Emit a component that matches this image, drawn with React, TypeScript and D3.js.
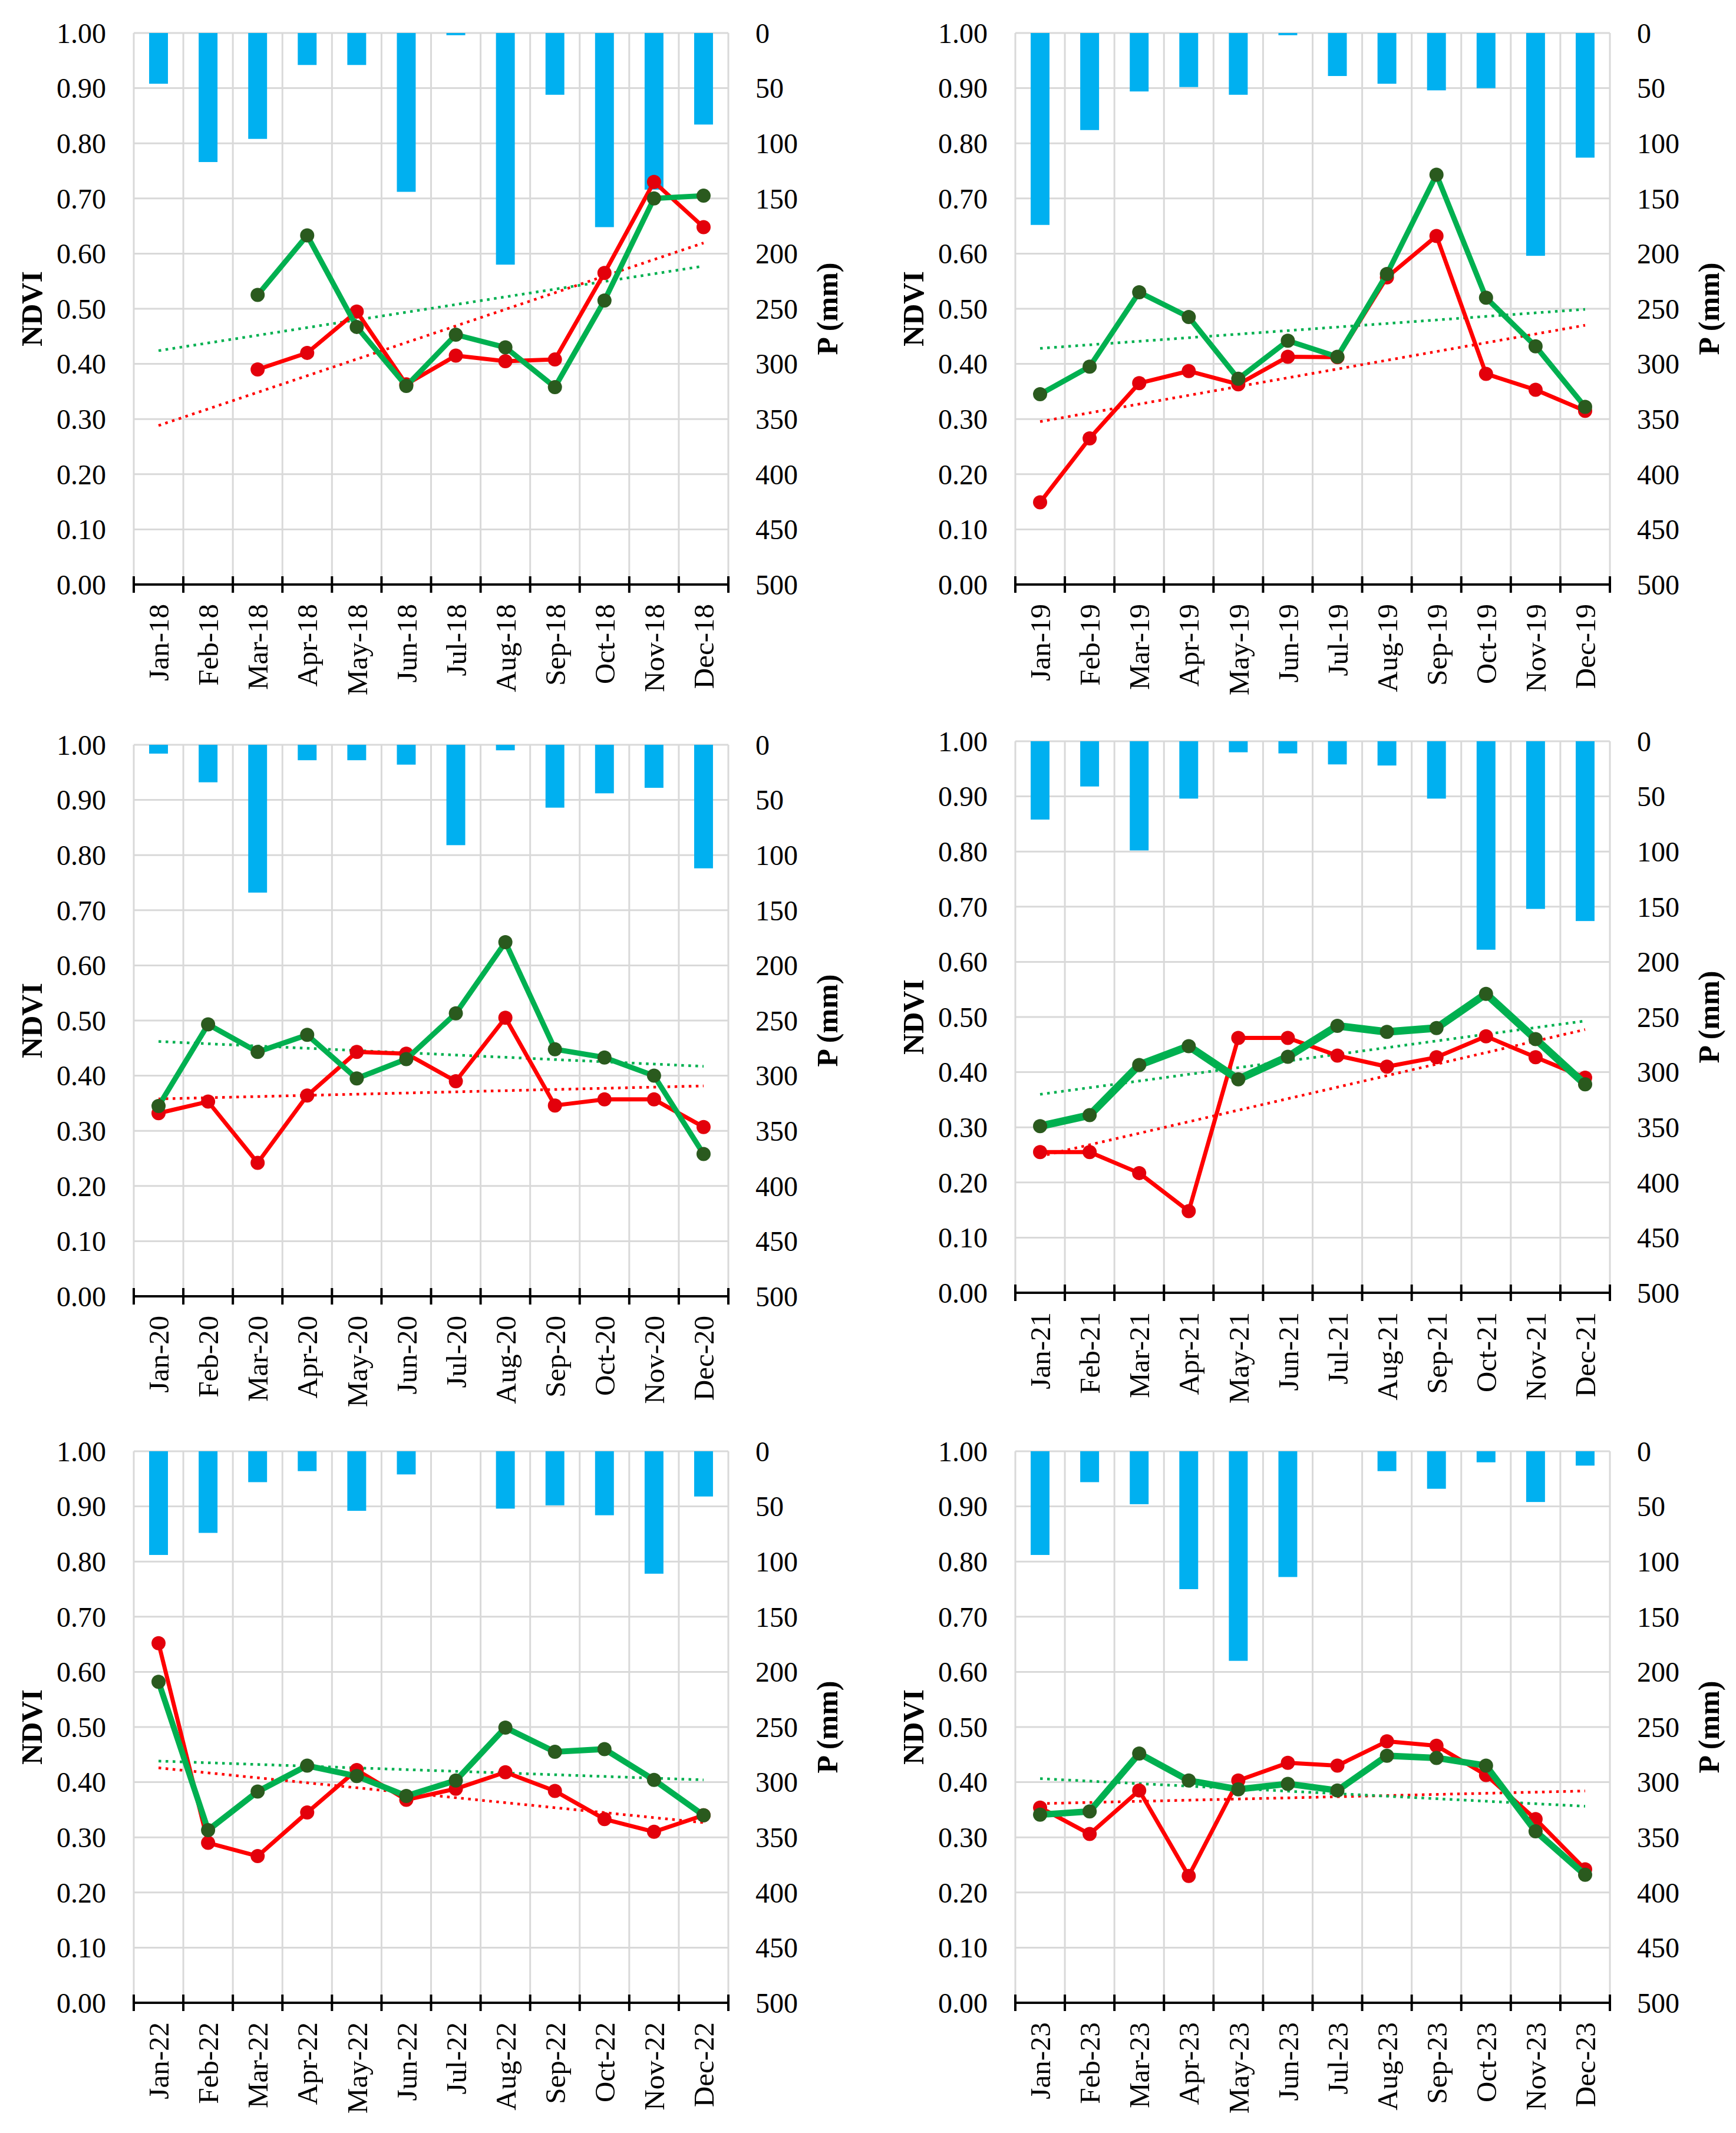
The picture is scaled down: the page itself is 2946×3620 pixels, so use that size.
import React from 'react';
import * as d3 from 'd3';

const MONTHS = ['Jan', 'Feb', 'Mar', 'Apr', 'May', 'Jun', 'Jul', 'Aug', 'Sep', 'Oct', 'Nov', 'Dec'];
const NDVI_TICKS = [0, 0.1, 0.2, 0.3, 0.4, 0.5, 0.6, 0.7, 0.8, 0.9, 1.0];
const P_TICKS = [0, 50, 100, 150, 200, 250, 300, 350, 400, 450, 500];

// monthly precipitation (mm)
const rain2018 = [46, 117, 96, 29, 29, 144, 2, 210, 56, 176, 142, 83];
const rain2019 = [174, 88, 53, 49, 56, 2, 39, 46, 52, 50, 202, 113];
const rain2020 = [8, 34, 134, 14, 14, 18, 91, 5, 57, 44, 39, 112];
const rain2021 = [71, 41, 99, 52, 10, 11, 21, 22, 52, 189, 152, 163];
const rain2022 = [94, 74, 28, 18, 54, 21, 0, 52, 49, 58, 111, 41];
const rain2023 = [94, 28, 48, 125, 190, 114, 0, 18, 34, 10, 46, 13];

// NDVI, red series
const red2018 = [null, null, 0.39, 0.42, 0.495, 0.363, 0.415, 0.405, 0.408, 0.565, 0.73, 0.648];
const red2019 = [0.149, 0.265, 0.365, 0.387, 0.363, 0.413, 0.412, 0.557, 0.632, 0.382, 0.353, 0.315];
const red2020 = [0.332, 0.353, 0.242, 0.364, 0.443, 0.44, 0.39, 0.505, 0.346, 0.357, 0.357, 0.307];
const red2021 = [0.255, 0.255, 0.217, 0.148, 0.462, 0.462, 0.43, 0.41, 0.427, 0.465, 0.427, 0.39];
const red2022 = [0.652, 0.29, 0.266, 0.345, 0.422, 0.368, 0.388, 0.418, 0.384, 0.333, 0.31, 0.34];
const red2023 = [0.354, 0.306, 0.385, 0.23, 0.403, 0.435, 0.43, 0.474, 0.466, 0.413, 0.333, 0.242];

// NDVI, green series
const green2018 = [null, null, 0.525, 0.633, 0.467, 0.36, 0.453, 0.43, 0.358, 0.515, 0.70, 0.705];
const green2019 = [0.345, 0.395, 0.53, 0.485, 0.373, 0.442, 0.413, 0.563, 0.743, 0.52, 0.432, 0.322];
const green2020 = [0.345, 0.493, 0.443, 0.474, 0.395, 0.43, 0.513, 0.642, 0.448, 0.433, 0.40, 0.258];
const green2021 = [0.302, 0.322, 0.413, 0.447, 0.387, 0.428, 0.484, 0.473, 0.48, 0.542, 0.46, 0.378];
const green2022 = [0.582, 0.313, 0.383, 0.43, 0.411, 0.375, 0.403, 0.499, 0.455, 0.46, 0.404, 0.34];
const green2023 = [0.341, 0.347, 0.452, 0.403, 0.387, 0.397, 0.385, 0.448, 0.444, 0.43, 0.311, 0.232];

const PLOT_W = 1009;
const PLOT_H = 936;
const FONT = "'Liberation Serif', 'Times New Roman', Times, serif";

const BLUE = '#00B0F0';
const RED = '#FF0000';
const RED_DOT = '#E3000B';
const GREEN = '#00B050';
const GREEN_DOT = '#2A5A1E';
const GRID = '#D9D9D9';

type Series = (number | null)[];

interface PanelCfg {
  yy: string;
  rain: number[];
  red: Series;
  green: Series;
  left: number;
  top: number;
  greenWidth: number;
}

const panels: PanelCfg[] = [
  { yy: '18', rain: rain2018, red: red2018, green: green2018, left: 227, top: 56, greenWidth: 9 },
  { yy: '19', rain: rain2019, red: red2019, green: green2019, left: 1723, top: 56, greenWidth: 9 },
  { yy: '20', rain: rain2020, red: red2020, green: green2020, left: 227, top: 1264, greenWidth: 9 },
  { yy: '21', rain: rain2021, red: red2021, green: green2021, left: 1723, top: 1258, greenWidth: 13 },
  { yy: '22', rain: rain2022, red: red2022, green: green2022, left: 227, top: 2463, greenWidth: 10 },
  { yy: '23', rain: rain2023, red: red2023, green: green2023, left: 1723, top: 2463, greenWidth: 11 },
];

// least squares fit over defined points, x = month index
function trend(values: Series): [number, number] {
  const pts = values.map((v, i) => [i, v] as [number, number | null]).filter(d => d[1] != null) as [number, number][];
  const mx = d3.mean(pts, d => d[0])!;
  const my = d3.mean(pts, d => d[1])!;
  const sxy = d3.sum(pts, d => (d[0] - mx) * (d[1] - my));
  const sxx = d3.sum(pts, d => (d[0] - mx) ** 2);
  const slope = sxy / sxx;
  return [my - slope * mx, slope];
}

const Panel: React.FC<{ cfg: PanelCfg }> = ({ cfg }) => {
  const { left, top, rain, red, green, yy, greenWidth } = cfg;
  const right = left + PLOT_W;
  const bottom = top + PLOT_H;
  const labels = MONTHS.map(m => `${m}-${yy}`);

  const x = d3.scaleBand<string>().domain(labels).range([left, right]);
  const cx = (i: number) => x(labels[i])! + x.bandwidth() / 2;
  const y = d3.scaleLinear().domain([0, 1]).range([bottom, top]);
  const p = d3.scaleLinear().domain([0, 500]).range([top, bottom]);
  const barW = x.bandwidth() * 0.38;

  const line = d3
    .line<number | null>()
    .defined(d => d != null)
    .x((_, i) => cx(i))
    .y(d => y(d as number));

  const trendPath = (s: Series) => {
    const [a, b] = trend(s);
    return d3.line<number>().x(i => cx(i)).y(i => y(a + b * i))([0, 11]) || '';
  };

  const midY = (top + bottom) / 2;

  return (
    <g>
      {/* grid */}
      {NDVI_TICKS.slice(1).map(t => (
        <line key={'h' + t} x1={left} x2={right} y1={y(t)} y2={y(t)} stroke={GRID} strokeWidth={3} />
      ))}
      {labels.map(l => (
        <line key={'v' + l} x1={x(l)} x2={x(l)} y1={top} y2={bottom} stroke={GRID} strokeWidth={3} />
      ))}
      <line x1={right} x2={right} y1={top} y2={bottom} stroke={GRID} strokeWidth={3} />

      {/* precipitation bars, hanging from top */}
      {rain.map((v, i) => (
        <rect key={'b' + i} x={cx(i) - barW / 2} y={p(0)} width={barW} height={p(v) - p(0)} fill={BLUE} />
      ))}

      {/* trend lines */}
      <path d={trendPath(red)} fill="none" stroke={RED} strokeWidth={4.5} strokeDasharray="4.5 7.5" />
      <path d={trendPath(green)} fill="none" stroke={GREEN} strokeWidth={4.5} strokeDasharray="4.5 7.5" />

      {/* red series */}
      <path d={line(red) || ''} fill="none" stroke={RED} strokeWidth={7} strokeLinejoin="round" />
      {red.map((v, i) => v != null && <circle key={'r' + i} cx={cx(i)} cy={y(v)} r={12} fill={RED_DOT} />)}

      {/* green series */}
      <path d={line(green) || ''} fill="none" stroke={GREEN} strokeWidth={greenWidth} strokeLinejoin="round" />
      {green.map((v, i) => v != null && <circle key={'g' + i} cx={cx(i)} cy={y(v)} r={12} fill={GREEN_DOT} />)}

      {/* x axis */}
      <line x1={left} x2={right} y1={bottom} y2={bottom} stroke="#000" strokeWidth={4} />
      {[...labels.map(l => x(l)!), right].map((tx, i) => (
        <line key={'t' + i} x1={tx} x2={tx} y1={bottom - 14} y2={bottom + 14} stroke="#000" strokeWidth={4} />
      ))}
      {labels.map((l, i) => (
        <text
          key={'xl' + l}
          transform={`translate(${cx(i)},${bottom + 33}) rotate(-90)`}
          textAnchor="end"
          dy="0.35em"
          fontSize={49}
        >
          {l}
        </text>
      ))}

      {/* left axis labels */}
      {NDVI_TICKS.map(t => (
        <text key={'yl' + t} x={left - 47} y={y(t)} dy="0.35em" textAnchor="end" fontSize={48}>
          {t.toFixed(2)}
        </text>
      ))}
      {/* right axis labels */}
      {P_TICKS.map(t => (
        <text key={'pl' + t} x={right + 46} y={p(t)} dy="0.35em" textAnchor="start" fontSize={48}>
          {t}
        </text>
      ))}

      <text
        transform={`translate(${left - 174},${midY}) rotate(-90)`}
        textAnchor="middle"
        dy="0.35em"
        fontSize={50}
        fontWeight="bold"
      >
        NDVI
      </text>
      <text
        transform={`translate(${right + 167},${midY}) rotate(-90)`}
        textAnchor="middle"
        dy="0.35em"
        fontSize={50}
        fontWeight="bold"
      >
        P (mm)
      </text>
    </g>
  );
};

const App: React.FC = () => (
  <svg
    width={2946}
    height={3620}
    style={{ position: 'absolute', left: 0, top: 0, background: '#fff', fontFamily: FONT }}
  >
    <rect width={2946} height={3620} fill="#fff" />
    {panels.map(cfg => (
      <Panel key={cfg.yy} cfg={cfg} />
    ))}
  </svg>
);

export default App;
